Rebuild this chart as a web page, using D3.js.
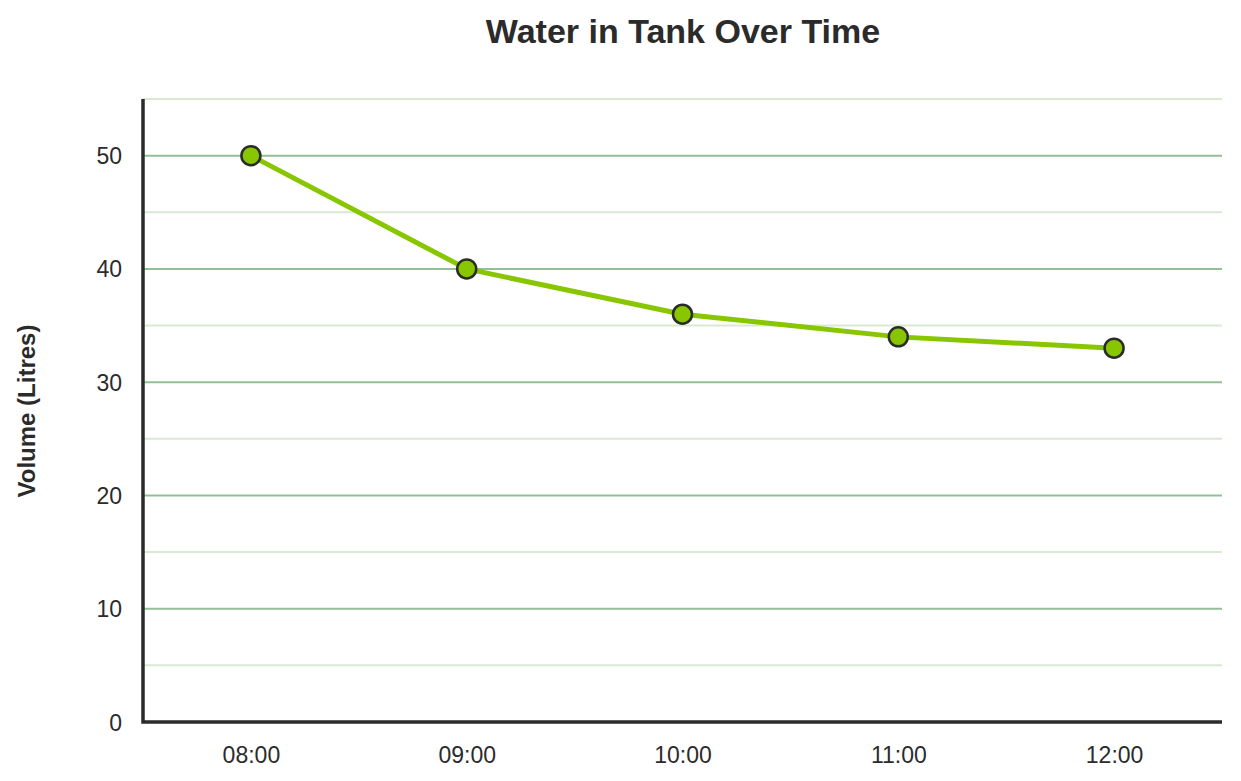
<!DOCTYPE html>
<html>
<head>
<meta charset="utf-8">
<script src="https://cdn.jsdelivr.net/npm/d3@7"></script>
<style>
  html, body { margin: 0; padding: 0; background: #fff; }
  text { font-family: "Liberation Sans", Arial, sans-serif; fill: #2b2b2b; }
</style>
</head>
<body>
<div id="chart"></div>
<script>
const times = ["08:00", "09:00", "10:00", "11:00", "12:00"];
const volumes = [50, 40, 36, 34, 33];
const majorTicks = [0, 10, 20, 30, 40, 50];
const minorTicks = [5, 15, 25, 35, 45, 55];

const width = 1241;
const height = 781;
const margin = { top: 99, right: 19, bottom: 59, left: 143 };

const svg = d3
  .select("#chart")
  .append("svg")
  .attr("width", width)
  .attr("height", height);

const x = d3
  .scalePoint()
  .domain(times)
  .range([margin.left, width - margin.right])
  .padding(0.5);

const y = d3
  .scaleLinear()
  .domain([0, 55])
  .range([height - margin.bottom, margin.top]);

// minor grid
svg
  .append("g")
  .selectAll("line")
  .data(minorTicks)
  .join("line")
  .attr("x1", margin.left)
  .attr("x2", width - margin.right)
  .attr("y1", (d) => y(d))
  .attr("y2", (d) => y(d))
  .attr("stroke", "#d9ead3")
  .attr("stroke-width", 2);

// major grid
svg
  .append("g")
  .selectAll("line")
  .data(majorTicks.filter((d) => d > 0))
  .join("line")
  .attr("x1", margin.left)
  .attr("x2", width - margin.right)
  .attr("y1", (d) => y(d))
  .attr("y2", (d) => y(d))
  .attr("stroke", "#93bf96")
  .attr("stroke-width", 2);

// y axis
const yAxis = svg
  .append("g")
  .attr("transform", `translate(${margin.left},0)`)
  .call(d3.axisLeft(y).tickValues(majorTicks).tickSize(0).tickPadding(21));
yAxis.select(".domain").remove();
yAxis.selectAll("text").attr("font-size", 23).attr("dy", "0.35em").attr("font-family", null);

// x axis
const xAxis = svg
  .append("g")
  .attr("transform", `translate(0,${height - margin.bottom})`)
  .call(d3.axisBottom(x).tickSize(0).tickPadding(25));
xAxis.select(".domain").remove();
xAxis.selectAll("text").attr("font-size", 23).attr("font-family", null);

// axis lines
svg
  .append("path")
  .attr(
    "d",
    `M${margin.left},${margin.top} V${height - margin.bottom} H${width - margin.right}`,
  )
  .attr("fill", "none")
  .attr("stroke", "#2b2b2b")
  .attr("stroke-width", 3.5);

const data = times.map((t, i) => ({ time: t, volume: volumes[i] }));

svg
  .append("path")
  .datum(data)
  .attr("fill", "none")
  .attr("stroke", "#88c600")
  .attr("stroke-width", 5)
  .attr("stroke-linejoin", "round")
  .attr(
    "d",
    d3
      .line()
      .x((d) => x(d.time))
      .y((d) => y(d.volume)),
  );

svg
  .append("g")
  .selectAll("circle")
  .data(data)
  .join("circle")
  .attr("cx", (d) => x(d.time))
  .attr("cy", (d) => y(d.volume))
  .attr("r", 9.5)
  .attr("fill", "#88c600")
  .attr("stroke", "#2b2b2b")
  .attr("stroke-width", 2.5);

svg
  .append("text")
  .attr("x", 683)
  .attr("y", 43)
  .attr("text-anchor", "middle")
  .attr("font-size", 34)
  .attr("font-weight", "bold")
  .text("Water in Tank Over Time");

svg
  .append("text")
  .attr("transform", `translate(35, 411) rotate(-90)`)
  .attr("text-anchor", "middle")
  .attr("font-size", 24)
  .attr("font-weight", "bold")
  .text("Volume (Litres)");
</script>
</body>
</html>
